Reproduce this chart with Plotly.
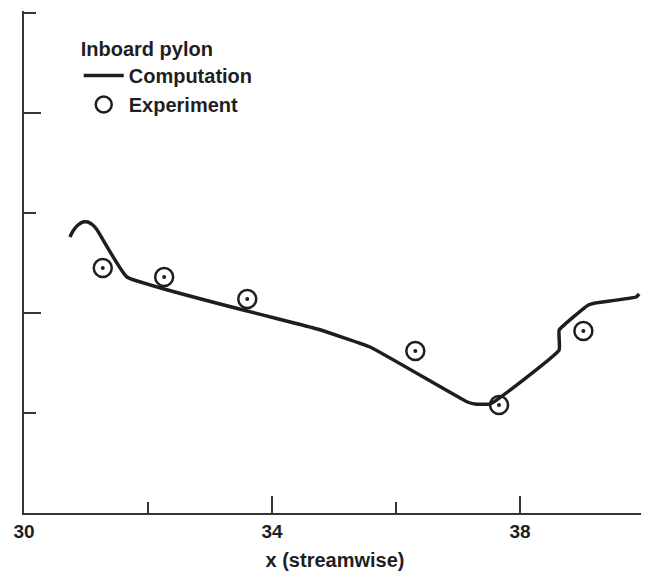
import plotly.graph_objects as go

# Computation curve (inboard pylon)
comp_x = [30.74, 30.79, 30.87, 30.95, 31.03, 31.11, 31.18, 31.66, 34.73, 35.58,
          37.15, 37.27, 37.52, 38.63, 38.63, 39.10, 39.21, 39.87, 39.92]
comp_y = [2.76, 2.82, 2.88, 2.91, 2.91, 2.88, 2.83, 2.36, 1.84, 1.66,
          1.11, 1.09, 1.09, 1.63, 1.83, 2.08, 2.10, 2.16, 2.19]

# Experiment points
exp_x = [31.27, 32.26, 33.60, 36.31, 37.66, 39.02]
exp_y = [2.45, 2.36, 2.14, 1.62, 1.08, 1.82]

x_range = [30, 40.03]
y_range = [0, 5.02]
x_major = [30, 34, 38]
x_minor = [32, 36, 40]
x_labels = ["30", "34", "38"]
y_major = [2, 4]
y_minor = [1, 3, 5]

INK = "#1e1e1e"
AXIS = "#333833"
FAM = "Liberation Sans, Arial, sans-serif"
TXT = "#1f1f1f"

fig = go.Figure()
fig.add_trace(go.Scatter(x=comp_x, y=comp_y, mode="lines", name="Computation",
                         line=dict(color=INK, width=3.5, shape="spline", smoothing=0.3)))
fig.add_trace(go.Scatter(x=exp_x, y=exp_y, mode="markers", name="Experiment",
                         marker=dict(symbol="circle-open", size=18, color=INK,
                                     line=dict(color=INK, width=2.5))))
fig.add_trace(go.Scatter(x=exp_x, y=exp_y, mode="markers", showlegend=False,
                         xaxis="x2", yaxis="y2",
                         marker=dict(symbol="circle", size=4, color=INK)))

fig.update_layout(
    width=641, height=565,
    margin=dict(l=16, r=3, t=3, b=60),
    paper_bgcolor="white", plot_bgcolor="white",
    font=dict(family=FAM, size=19, color=TXT, weight="bold"),
    showlegend=True,
    legend=dict(
        title=dict(text="Inboard pylon", font=dict(family=FAM, size=20, color=TXT, weight="bold")),
        x=0.088, y=0.962, xanchor="left", yanchor="top",
        bgcolor="rgba(0,0,0,0)", borderwidth=0,
        font=dict(family=FAM, size=20, color=TXT, weight="bold"),
        tracegroupgap=0, itemwidth=40,
    ),
    xaxis=dict(
        range=x_range, showgrid=False, zeroline=False,
        showline=True, linecolor=AXIS, linewidth=2,
        tickmode="array", tickvals=x_major, ticktext=x_labels,
        ticks="inside", ticklen=17, tickwidth=2, tickcolor=AXIS,
        tickfont=dict(family=FAM, size=19, color=TXT, weight="bold"),
        title=dict(text="x (streamwise)", standoff=12,
                   font=dict(family=FAM, size=20, color=TXT, weight="bold")),
    ),
    yaxis=dict(
        range=y_range, showgrid=False, zeroline=False,
        showline=True, linecolor=AXIS, linewidth=2,
        tickmode="array", tickvals=y_major, showticklabels=False,
        ticks="inside", ticklen=17, tickwidth=2, tickcolor=AXIS,
    ),
    xaxis2=dict(
        range=x_range, overlaying="x", side="bottom", anchor="y2",
        showgrid=False, zeroline=False, showline=False,
        tickmode="array", tickvals=x_minor, showticklabels=False,
        ticks="inside", ticklen=11, tickwidth=2, tickcolor=AXIS,
    ),
    yaxis2=dict(
        range=y_range, overlaying="y", side="left", anchor="x2",
        showgrid=False, zeroline=False, showline=False,
        tickmode="array", tickvals=y_minor, showticklabels=False,
        ticks="inside", ticklen=12, tickwidth=2, tickcolor=AXIS,
    ),
)

fig.write_html("out.html")
